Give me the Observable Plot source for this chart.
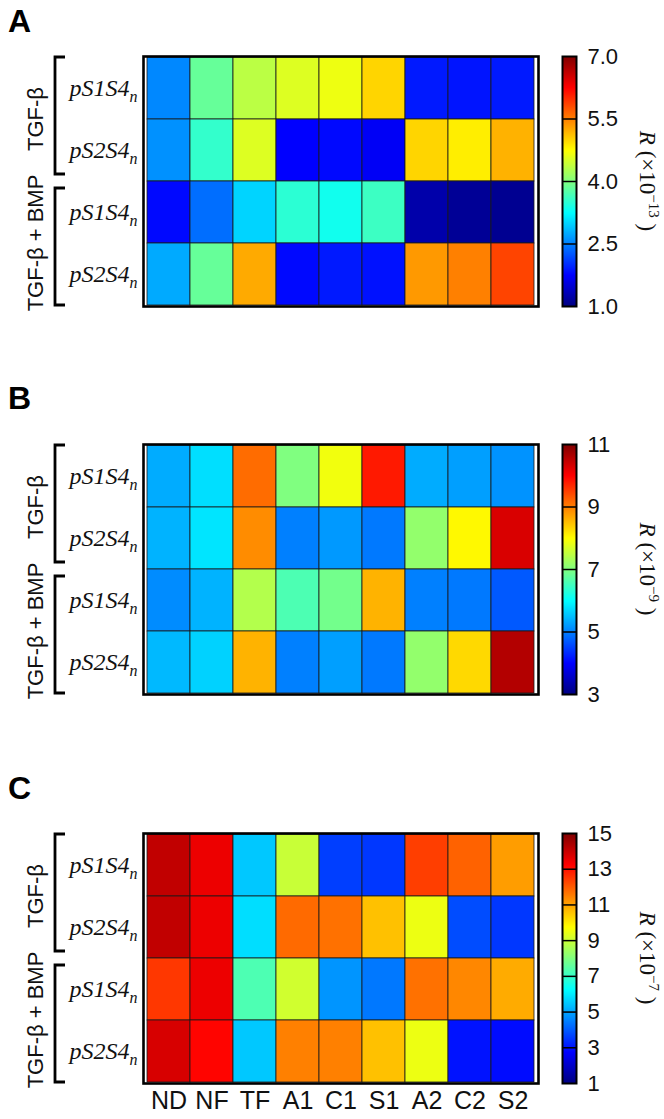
<!DOCTYPE html>
<html><head><meta charset="utf-8">
<script src="https://cdn.jsdelivr.net/npm/d3@7"></script>
<script src="https://cdn.jsdelivr.net/npm/@observablehq/plot@0.6"></script>
<style>
body{margin:0;background:#fff;}
#root{position:relative;width:664px;height:1119px;overflow:hidden;font-family:"Liberation Sans",Arial,sans-serif;}
.panel-letter{position:absolute;left:8px;font:bold 32px "Liberation Sans",Arial,sans-serif;line-height:30px;}
.abs{position:absolute;}
</style></head><body><div id="root"></div>
<script>
// ---- data ----
const columns = ["ND","NF","TF","A1","C1","S1","A2","C2","S2"];
const groups = ["TGF-β","TGF-β + BMP"];
const species = ["pS1S4","pS2S4"];

// Panel A, R (×10^-13); rows: TGF-β pS1S4n, TGF-β pS2S4n, TGF-β+BMP pS1S4n, TGF-β+BMP pS2S4n
const valuesA = [
  [2.55, 3.85, 4.35, 4.55, 4.65, 5.0, 1.9, 1.87, 1.9],
  [2.6, 3.55, 4.55, 1.75, 1.8, 1.7, 5.0, 4.85, 5.2],
  [1.8, 2.4, 3.0, 3.5, 3.35, 3.6, 1.25, 1.13, 1.1],
  [2.75, 3.85, 5.25, 1.8, 1.9, 1.85, 5.35, 5.5, 5.85]
];
const domainA = [1, 7];
const ticksA = [1.0, 2.5, 4.0, 5.5, 7.0];

// Panel B, R (×10^-9)
const valuesB = [
  [5.35, 5.75, 9.15, 7.0, 7.9, 9.8, 5.35, 5.25, 5.15],
  [5.4, 5.8, 8.9, 5.0, 5.2, 4.95, 7.15, 8.05, 10.3],
  [5.1, 5.4, 7.4, 6.6, 6.9, 8.6, 5.0, 4.95, 4.7],
  [5.45, 5.65, 8.6, 5.0, 5.25, 4.95, 7.15, 8.3, 10.6]
];
const domainB = [3, 11];
const ticksB = [3, 5, 7, 9, 11];

// Panel C, R (×10^-7)
const valuesC = [
  [14.1, 13.5, 5.5, 9.0, 3.6, 3.5, 12.4, 11.9, 11.1],
  [14.1, 13.5, 5.8, 11.8, 11.7, 10.6, 9.5, 3.8, 3.5],
  [12.5, 13.5, 7.3, 9.1, 4.8, 4.4, 11.7, 11.4, 10.9],
  [13.8, 13.2, 5.5, 11.5, 11.5, 10.6, 9.5, 3.0, 2.9]
];
const domainC = [1, 15];
const ticksC = [1, 3, 5, 7, 9, 11, 13, 15];

// ---- jet colormap ----
const clamp = v => Math.max(0, Math.min(1, v));
function jet(t) {
  t = clamp(t);
  const r = clamp(Math.min(4 * t - 1.5, -4 * t + 4.5));
  const g = clamp(Math.min(4 * t - 0.5, -4 * t + 3.5));
  const b = clamp(Math.min(4 * t + 0.5, -4 * t + 2.5));
  return `rgb(${Math.round(r * 255)},${Math.round(g * 255)},${Math.round(b * 255)})`;
}

const root = document.getElementById("root");

function addPanel({letter, letterTop, frameTop, values, domain, ticks, tickFormat, exponent, showX}) {
  const mt = 14, mb = showX ? 50 : 14, cellH = 250;
  const H = cellH + mt + mb;

  const L = document.createElement("div");
  L.className = "panel-letter";
  L.style.top = letterTop + "px";
  L.textContent = letter;
  root.appendChild(L);

  const rowKeys = [];
  groups.forEach(g => species.forEach(s => rowKeys.push(g + "|" + s)));
  const data = [];
  rowKeys.forEach((r, ri) => columns.forEach((c, ci) => data.push({row: r, col: c, v: values[ri][ci]})));
  const color = {type: "linear", domain, interpolate: jet};

  const hm = Plot.plot({
    width: 545, height: H,
    marginLeft: 143, marginRight: 7, marginTop: mt, marginBottom: mb,
    style: {overflow: "visible", background: "transparent"},
    x: {domain: columns, padding: 0, axis: null},
    y: {domain: rowKeys, padding: 0, axis: null},
    color,
    marks: [
      Plot.cell(data, {x: "col", y: "row", fill: "v", stroke: "#1a1a1a", strokeWidth: 0.8, inset: 0}),
      Plot.frame({stroke: "#000", strokeWidth: 2.6}),
      Plot.axisY({tickSize: 0, tickPadding: 6, tickFormat: d => d.split("|")[1], label: null}),
      showX ? Plot.axisX({tickSize: 0, tickPadding: 8, label: null}) : null
    ]
  });
  const d1 = document.createElement("div");
  d1.className = "abs";
  d1.style.left = "0px"; d1.style.top = (frameTop - mt) + "px"; d1.style.width = "545px";
  d1.appendChild(hm);
  root.appendChild(d1);

  const svg = d3.select(hm);
  svg.selectAll('g[aria-label="y-axis tick label"] text')
    .style("font-family", "'Liberation Serif', 'Times New Roman', serif")
    .style("font-style", "italic").style("font-size", "24px").attr("fill", "#111")
    .each(function () {
      d3.select(this).append("tspan").style("font-size", "16px").attr("dy", "6").text("n");
    });
  svg.selectAll('g[aria-label="x-axis tick label"] text')
    .style("font-family", "'Liberation Sans', Arial, sans-serif").style("font-size", "25px").attr("fill", "#111");

  const ys = hm.scale("y");
  const bw = ys.bandwidth;
  const bx = 143 - 88, inset = 7;
  const g = svg.append("g");
  groups.forEach((grp, gi) => {
    const gTop = ys.apply(rowKeys[gi * 2]);
    const gBot = ys.apply(rowKeys[gi * 2 + 1]) + bw;
    let top = gTop, bot = gBot;
    if (gi === 0) bot -= inset; else top += inset;
    g.append("path").attr("d", `M${bx + 10},${top}H${bx}V${bot}H${bx + 10}`)
      .attr("fill", "none").attr("stroke", "#000").attr("stroke-width", 2.8);
    g.append("text")
      .attr("transform", `translate(${bx - 20},${(gTop + gBot) / 2}) rotate(-90)`)
      .attr("text-anchor", "middle").attr("dominant-baseline", "central")
      .style("font-family", "'Liberation Sans', Arial, sans-serif").style("font-size", "22px")
      .attr("fill", "#111").text(grp);
  });

  // colorbar
  const cb = Plot.plot({
    width: 124, height: H,
    marginLeft: 22, marginRight: 88, marginTop: mt, marginBottom: mb,
    style: {overflow: "visible", background: "transparent"},
    x: {domain: [0, 1], axis: null},
    y: {domain, axis: null},
    color,
    marks: [
      Plot.raster({x1: 0, x2: 1, y1: domain[0], y2: domain[1], fill: (x, y) => y, width: 1, height: 250}),
      Plot.ruleY(ticks.slice(1, -1), {stroke: "#000", strokeWidth: 1.5}),
      Plot.frame({stroke: "#000", strokeWidth: 2}),
      Plot.axisY(ticks, {anchor: "right", tickSize: 0, tickPadding: 11, tickFormat, label: null})
    ]
  });
  const d2 = document.createElement("div");
  d2.className = "abs";
  d2.style.left = "540px"; d2.style.top = (frameTop - mt) + "px"; d2.style.width = "124px";
  d2.appendChild(cb);
  root.appendChild(d2);

  const csvg = d3.select(cb);
  csvg.selectAll('g[aria-label="y-axis tick label"] text')
    .style("font-family", "'Liberation Sans', Arial, sans-serif").style("font-size", "22px").attr("fill", "#111");
  const cys = cb.scale("y");
  const yc = (cys.apply(domain[0]) + cys.apply(domain[1])) / 2;
  const lab = csvg.append("text")
    .attr("transform", `translate(${22 + 14 + 64},${yc}) rotate(90)`)
    .attr("text-anchor", "middle")
    .style("font-family", "'Liberation Serif', 'Times New Roman', serif").style("font-size", "23px")
    .attr("fill", "#111");
  lab.append("tspan").style("font-style", "italic").text("R");
  lab.append("tspan").text(" (×10");
  lab.append("tspan").style("font-size", "15px").attr("dy", "-9").text("−" + exponent);
  lab.append("tspan").attr("dy", "9").text(" )");
}

addPanel({letter: "A", letterTop: 6, frameTop: 56, values: valuesA, domain: domainA, ticks: ticksA,
  tickFormat: d3.format(".1f"), exponent: "13", showX: false});
addPanel({letter: "B", letterTop: 383, frameTop: 444, values: valuesB, domain: domainB, ticks: ticksB,
  tickFormat: d3.format("d"), exponent: "9", showX: false});
addPanel({letter: "C", letterTop: 773, frameTop: 833, values: valuesC, domain: domainC, ticks: ticksC,
  tickFormat: d3.format("d"), exponent: "7", showX: true});
</script>
</body></html>
